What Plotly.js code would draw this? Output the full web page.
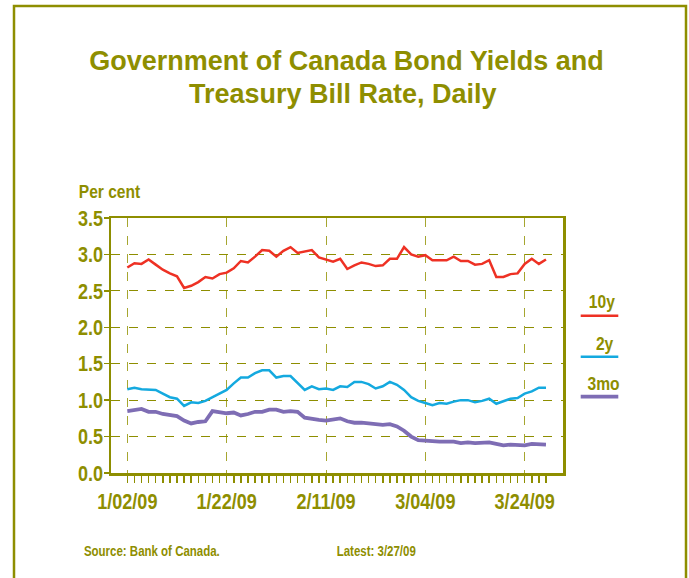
<!DOCTYPE html>
<html>
<head>
<meta charset="utf-8">
<script src="https://cdn.plot.ly/plotly-3.0.1.min.js"></script>
<style>
  html, body { margin: 0; padding: 0; background: #ffffff; }
  #chart { width: 689px; height: 578px; }
</style>
</head>
<body>
<div id="chart"></div>
<script>
// Business days, Jan 2 – Mar 27, 2009 (as plotted)
const dates = [
  "1/02/09","1/05/09","1/06/09","1/07/09","1/08/09","1/09/09",
  "1/12/09","1/13/09","1/14/09","1/15/09","1/16/09",
  "1/19/09","1/20/09","1/21/09","1/22/09","1/23/09",
  "1/26/09","1/27/09","1/28/09","1/29/09","1/30/09",
  "2/02/09","2/03/09","2/04/09","2/05/09","2/06/09",
  "2/09/09","2/10/09","2/11/09","2/12/09","2/13/09",
  "2/17/09","2/18/09","2/19/09","2/20/09",
  "2/23/09","2/24/09","2/25/09","2/26/09","2/27/09",
  "3/02/09","3/03/09","3/04/09","3/05/09","3/06/09",
  "3/09/09","3/10/09","3/11/09","3/12/09","3/13/09",
  "3/16/09","3/17/09","3/18/09","3/19/09","3/20/09",
  "3/23/09","3/24/09","3/25/09","3/26/09","3/27/09"
];

const yield10y = [
  2.82,2.88,2.87,2.93,2.86,2.79,2.74,2.70,2.54,2.57,
  2.62,2.69,2.67,2.73,2.75,2.81,2.91,2.89,2.97,3.06,
  3.05,2.97,3.05,3.10,3.02,3.04,3.06,2.96,2.93,2.90,
  2.94,2.80,2.85,2.89,2.87,2.84,2.85,2.94,2.94,3.10,
  3.00,2.97,2.99,2.92,2.92,2.92,2.97,2.91,2.91,2.86,
  2.87,2.92,2.69,2.69,2.73,2.74,2.87,2.94,2.87,2.93
];

const yield2y = [
  1.15,1.17,1.15,1.14,1.14,1.09,1.04,1.02,0.92,0.97,
  0.96,0.99,1.04,1.08,1.14,1.23,1.31,1.31,1.37,1.41,
  1.41,1.31,1.33,1.33,1.23,1.14,1.19,1.15,1.16,1.14,
  1.19,1.18,1.25,1.25,1.22,1.16,1.19,1.25,1.21,1.14,
  1.04,0.99,0.96,0.93,0.96,0.95,0.98,1.00,1.00,0.97,
  0.99,1.02,0.95,0.99,1.02,1.03,1.09,1.12,1.17,1.17
];

const tbill3mo = [
  0.85,0.87,0.88,0.84,0.84,0.81,0.80,0.78,0.72,0.68,
  0.70,0.71,0.85,0.83,0.82,0.83,0.79,0.81,0.84,0.84,
  0.87,0.87,0.84,0.85,0.84,0.76,0.74,0.73,0.72,0.74,
  0.75,0.71,0.69,0.69,0.68,0.67,0.66,0.67,0.64,0.58,
  0.50,0.45,0.44,0.43,0.43,0.43,0.43,0.41,0.42,0.41,
  0.42,0.42,0.40,0.38,0.39,0.38,0.38,0.40,0.40,0.39
];

const seriesNames = ["10y", "2y", "3mo"];
const titleLines = ["Government of Canada Bond Yields and", "Treasury Bill Rate, Daily"];
const labelEvery = 14;
const yTicks = [0, 0.5, 1.0, 1.5, 2.0, 2.5, 3.0, 3.5];

const OLIVE = "#8e8e00";
const FONT = "Liberation Sans, Arial, Helvetica, sans-serif";
const NARROW = 0.82;   // horizontal condensing of the small texts (Arial Narrow look)
const colors = ["#ee3124", "#14a9df", "#7e6db4"];
const widths = [2.5, 2.5, 3.8];

const idx = dates.map((d, i) => i);
const majorIdx = idx.filter(i => i % labelEvery === 0);
const majorText = majorIdx.map(i => dates[i]);

const values = [yield10y, yield2y, tbill3mo];
const traces = values.map((v, k) => ({
  x: idx, y: v, type: "scatter", mode: "lines", name: seriesNames[k],
  line: { color: colors[k], width: widths[k] },
  text: dates, hovertemplate: "%{text}: %{y:.2f}<extra>" + seriesNames[k] + "</extra>",
  showlegend: false
}));

// plot area in pixels: x 111..563, y 218..473
const L = 111, R = 563, T = 218, B = 473;
const px = x => (x - L) / (R - L);
const py = y => (B - y) / (B - T);

const legendLineY = [315.7, 356.7, 396.7];
const legendTextY = [301.5, 343.5, 383.5];
const legendTextX = [602, 605, 603];

const shapes = [
  { type: "rect", xref: "paper", yref: "paper",
    x0: px(14), x1: px(686), y0: py(640), y1: py(6),
    line: { color: OLIVE, width: 2.5 }, fillcolor: "rgba(0,0,0,0)", layer: "below" }
];
const bold = (size) => ({ family: FONT, size: size, color: OLIVE, weight: "bold" });
const TITLE_SIZE = 27;
const annotations = [
  { xref: "paper", yref: "paper", x: px(342.5), y: py(94), xanchor: "center", yanchor: "middle",
    text: titleLines[1], showarrow: false, font: bold(TITLE_SIZE) },
  { xref: "paper", yref: "paper", x: px(110), y: py(192), xanchor: "center", yanchor: "middle",
    text: "Per cent", showarrow: false, font: bold(19) },
  { xref: "paper", yref: "paper", x: px(152), y: py(551), xanchor: "center", yanchor: "middle",
    text: "Source: Bank of Canada.", showarrow: false, font: bold(14) },
  { xref: "paper", yref: "paper", x: px(376), y: py(551), xanchor: "center", yanchor: "middle",
    text: "Latest: " + dates[dates.length - 1], showarrow: false, font: bold(14) }
];
seriesNames.forEach((n, k) => {
  shapes.push({ type: "line", xref: "paper", yref: "paper",
    x0: px(580.7), x1: px(618.3), y0: py(legendLineY[k]), y1: py(legendLineY[k]),
    line: { color: colors[k], width: widths[k] } });
  annotations.push({ xref: "paper", yref: "paper", x: px(legendTextX[k]), y: py(legendTextY[k]),
    xanchor: "center", yanchor: "middle", text: n, showarrow: false, font: bold(19) });
});

const layout = {
  width: 689, height: 578,
  margin: { l: L, r: 689 - R, t: T, b: 578 - B, pad: 0 },
  paper_bgcolor: "#ffffff", plot_bgcolor: "#ffffff",
  showlegend: false,
  title: {
    text: titleLines[0],
    font: bold(TITLE_SIZE),
    xref: "paper", x: px(346.5), xanchor: "center",
    yref: "container", y: 1 - 61 / 578, yanchor: "middle"
  },
  xaxis: {
    type: "linear", range: [-2.3, 61.4],
    tickmode: "array", tickvals: majorIdx, ticktext: majorText,
    ticks: "outside", ticklen: 7, tickwidth: 1.5, tickcolor: OLIVE,
    tickfont: bold(22),
    minor: { tickmode: "array", tickvals: idx, ticks: "outside", ticklen: 7,
             tickwidth: 1.5, tickcolor: OLIVE, showgrid: false },
    showgrid: true, gridcolor: "#a6a630", griddash: "dash", gridwidth: 1,
    showline: true, linecolor: OLIVE, linewidth: 2.5, mirror: true,
    zeroline: false, fixedrange: true
  },
  yaxis: {
    range: [0, 3.5], tickmode: "array", tickvals: yTicks,
    ticktext: yTicks.map(v => v.toFixed(1)),
    ticks: "outside", ticklen: 5, tickwidth: 1.5, tickcolor: OLIVE,
    ticklabelstandoff: -4,
    tickfont: bold(22),
    showgrid: true, gridcolor: OLIVE, griddash: "dash", gridwidth: 1,
    showline: true, linecolor: OLIVE, linewidth: 2.5, mirror: true,
    zeroline: false, fixedrange: true
  },
  shapes: shapes,
  annotations: annotations
};

// Condense the smaller texts horizontally (they stay real text).
function condense(gd) {
  gd.querySelectorAll("svg text").forEach(t => {
    const fs = parseFloat(getComputedStyle(t).fontSize);
    if (!(fs < 25)) return;
    const lines = t.querySelectorAll("tspan.line");
    const targets = lines.length ? Array.from(lines) : [t];
    targets.forEach(el => {
      const w = el.getComputedTextLength();
      if (w > 0) {
        el.setAttribute("textLength", (w * NARROW).toFixed(2));
        el.setAttribute("lengthAdjust", "spacingAndGlyphs");
      }
    });
  });
}

Plotly.newPlot("chart", traces, layout, { displayModeBar: false, staticPlot: true })
  .then(gd => condense(gd));
</script>
</body>
</html>
